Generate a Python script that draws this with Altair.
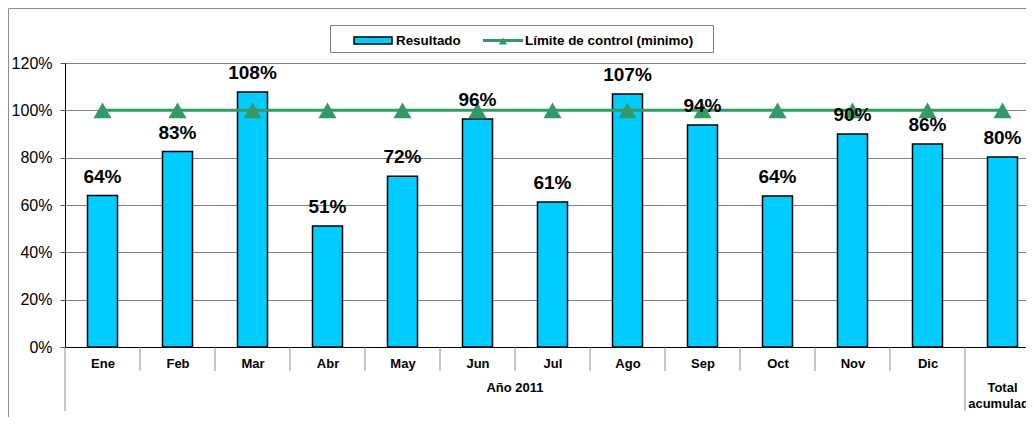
import altair as alt
import pandas as pd

# ---- data ----
categorias = ["Ene", "Feb", "Mar", "Abr", "May", "Jun", "Jul", "Ago", "Sep", "Oct", "Nov", "Dic", "Total"]
resultado = [0.64, 0.826, 1.077, 0.511, 0.722, 0.963, 0.613, 1.069, 0.938, 0.638, 0.90, 0.858, 0.803]
limite = [1.0, 1.0, 1.0, 1.0, 1.0, 1.0, 1.0, 1.0, 1.0, 1.0, 1.0, 1.0, 1.0]
y_ticks = [0, 0.2, 0.4, 0.6, 0.8, 1.0, 1.2]
grupo_anio = "Año 2011"
grupo_total = "Total\nacumulado"
serie_barras = "Resultado"
serie_linea = "Límite de control (minimo)"

n = len(categorias)
# category slot index -> centre of the slot on a continuous axis (one unit per category)
df = pd.DataFrame({
    "cat": categorias,
    "pos": [i + 0.5 for i in range(n)],
    "res": resultado,
    "lim": limite,
})
short_ticks_df = pd.DataFrame({"b": list(range(1, n - 1))})   # boundaries between months
long_ticks_df = pd.DataFrame({"b": [0, n - 1]})               # group boundaries
anio_df = pd.DataFrame({"b": [(n - 1) / 2], "txt": [grupo_anio]})
total_df = pd.DataFrame({"b": [n - 0.5], "txt": [grupo_total]})

FONT = "Liberation Sans"
CYAN = "#00CCFF"
GREEN = "#339966"
GRAY = "#8c8c8c"
W, H = 961, 284
STEP = 75.0  # pixel width of one category slot (the plot runs past the window edge)

xscale = alt.Scale(domain=[0, W / STEP], nice=False, zero=False, padding=0)
yscale = alt.Scale(domain=[0, 1.2], nice=False, padding=0)

names_js = "[" + ",".join("'" + c + "'" for c in categorias[:-1]) + "]"
xaxis = alt.Axis(
    title=None, values=[i + 0.5 for i in range(n - 1)],
    labelExpr=names_js + "[floor(datum.value)]",
    labelFont=FONT, labelFontSize=13, labelFontWeight="bold", labelColor="black",
    labelAngle=0, labelBaseline="alphabetic", labelPadding=20, labelFlush=False,
    labelOverlap=False, ticks=False, tickSize=0, domainColor="black", domainWidth=1, grid=False,
)
yaxis = alt.Axis(
    title=None, values=y_ticks, format=".0%",
    labelFont=FONT, labelFontSize=16, labelColor="black", labelPadding=8,
    tickSize=5, tickColor="#555555", domainColor="black", domainWidth=1,
    grid=True, gridColor="#808080", gridWidth=1,
)


def X(field="pos"):
    return alt.X(f"{field}:Q", scale=xscale, axis=xaxis)


bars = alt.Chart(df).mark_bar(
    orient="vertical", width=30, color=CYAN, stroke="black", strokeWidth=1.5
).encode(x=X(), y=alt.Y("res:Q", scale=yscale, axis=yaxis))

line = alt.Chart(df).mark_line(color=GREEN, strokeWidth=3).encode(
    x=X(), y=alt.Y("lim:Q", scale=yscale, axis=yaxis)
)
pts = alt.Chart(df).mark_point(
    shape="triangle-up", filled=True, size=324, color=GREEN, opacity=1
).encode(x=X(), y=alt.Y("lim:Q", scale=yscale, axis=yaxis))

labels = alt.Chart(df).mark_text(
    dy=-13, baseline="alphabetic", font=FONT, fontSize=19, fontWeight="bold", color="black"
).encode(
    x=X(), y=alt.Y("res:Q", scale=yscale, axis=yaxis),
    text=alt.Text("res:Q", format=".0%"),
)

short_ticks = alt.Chart(short_ticks_df).mark_rule(color=GRAY, strokeWidth=1).encode(
    x=X("b"), y=alt.value(H), y2=alt.value(H + 24)
)
long_ticks = alt.Chart(long_ticks_df).mark_rule(color=GRAY, strokeWidth=1).encode(
    x=X("b"), y=alt.value(H), y2=alt.value(H + 64)
)

anio = alt.Chart(anio_df).mark_text(
    baseline="alphabetic", align="center", font=FONT, fontSize=13, fontWeight="bold", color="black"
).encode(x=X("b"), y=alt.value(329), text="txt:N")

total = alt.Chart(total_df).mark_text(
    baseline="alphabetic", align="center", font=FONT, fontSize=13, fontWeight="bold",
    color="black", lineBreak="\n", lineHeight=16
).encode(x=X("b"), y=alt.value(329), text="txt:N")

one = pd.DataFrame({"a": [0]})

leg_box = alt.Chart(one).mark_rect(fill="white", stroke="#808080", strokeWidth=1).encode(
    x=alt.value(265.5), x2=alt.value(648.5), y=alt.value(-37.5), y2=alt.value(-10.5)
)
leg_bar = alt.Chart(one).mark_rect(fill=CYAN, stroke="black", strokeWidth=1.5).encode(
    x=alt.value(289), x2=alt.value(327), y=alt.value(-26), y2=alt.value(-19)
)
leg_bar_txt = alt.Chart(one).mark_text(
    text=serie_barras, align="left", baseline="middle", font=FONT, fontSize=13.4,
    fontWeight="bold", color="black"
).encode(x=alt.value(331), y=alt.value(-22.5))
leg_line = alt.Chart(one).mark_rule(color=GREEN, strokeWidth=3).encode(
    x=alt.value(418), x2=alt.value(458), y=alt.value(-22.5)
)
leg_pt = alt.Chart(one).mark_point(
    shape="triangle-up", filled=True, size=70, color=GREEN, opacity=1
).encode(x=alt.value(438), y=alt.value(-22))
leg_line_txt = alt.Chart(one).mark_text(
    text=serie_linea, align="left", baseline="middle", font=FONT, fontSize=13.4,
    fontWeight="bold", color="black"
).encode(x=alt.value(460), y=alt.value(-22.5))

frame_top = alt.Chart(one).mark_rule(color=GRAY, strokeWidth=1).encode(
    x=alt.value(-56.5), x2=alt.value(W), y=alt.value(-54.5)
)
frame_left = alt.Chart(one).mark_rule(color=GRAY, strokeWidth=1).encode(
    x=alt.value(-56.5), y=alt.value(-54.5), y2=alt.value(H + 70)
)

chart = alt.layer(
    bars, line, pts, labels, short_ticks, long_ticks, anio, total,
    leg_box, leg_bar, leg_bar_txt, leg_line, leg_pt, leg_line_txt,
    frame_top, frame_left,
).properties(
    width=W, height=H,
    autosize=alt.AutoSizeParams(type="none"),
    padding={"left": 57, "top": 55, "right": 0, "bottom": 70},
).configure_view(stroke=None).configure(background="white")

chart.save("out.html", embed_options={"renderer": "svg", "actions": False})
